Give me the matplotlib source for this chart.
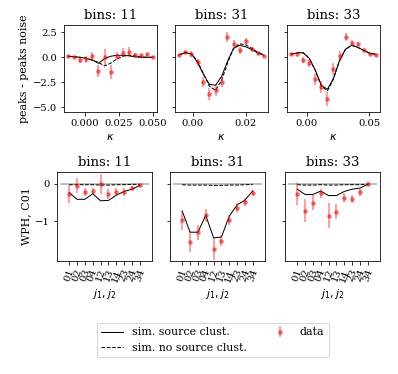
import numpy as np
import matplotlib
matplotlib.use("Agg")
import matplotlib.pyplot as plt

plt.rcParams['font.family'] = 'serif'
plt.rcParams['font.size'] = 11
plt.rcParams['xtick.labelsize'] = 10
plt.rcParams['ytick.labelsize'] = 10

bins = ['11', '31', '33']

# top row: peak counts difference vs kappa
kappa = [
    [-0.0123, -0.0079, -0.0035, 0.0010, 0.0054, 0.0098, 0.0143, 0.0187,
     0.0231, 0.0275, 0.0320, 0.0364, 0.0408, 0.0453, 0.0497],
    [-0.0051, -0.0028, -0.0005, 0.0018, 0.0040, 0.0063, 0.0086, 0.0109,
     0.0131, 0.0154, 0.0177, 0.0200, 0.0222, 0.0245, 0.0268],
    [-0.0125, -0.0077, -0.0028, 0.0020, 0.0069, 0.0117, 0.0166, 0.0214,
     0.0263, 0.0311, 0.0360, 0.0408, 0.0457, 0.0505, 0.0554],
]
peaks_data = [
    [0.16, 0.0, -0.27, -0.2, 0.13, -1.37, 0.0, -1.5, 0.17, 0.47, 0.57, 0.27, 0.2, 0.33, 0.0],
    [0.2, 0.5, 0.33, -0.5, -2.5, -3.7, -3.25, -2.5, 2.07, 1.35, 0.73, 1.67, 0.87, 0.4, 0.18],
    [0.3, 0.37, -0.3, -0.6, -2.2, -2.93, -4.17, -1.17, 0.13, 2.0, 1.4, 1.3, 0.73, 0.37, 0.27],
]
peaks_err = [
    [0.1, 0.1, 0.3, 0.35, 0.4, 0.6, 0.8, 0.7, 0.4, 0.45, 0.45, 0.2, 0.15, 0.15, 0.1],
    [0.1, 0.15, 0.3, 0.35, 0.5, 0.6, 0.6, 0.5, 0.5, 0.4, 0.35, 0.3, 0.2, 0.15, 0.1],
    [0.1, 0.15, 0.3, 0.4, 0.6, 0.6, 0.7, 0.6, 0.5, 0.4, 0.3, 0.2, 0.15, 0.1, 0.1],
]
peaks_clust = [
    [0.1, 0.05, 0.0, -0.1, -0.25, -0.6, -0.15, 0.1, 0.2, 0.2, 0.15, 0.05, 0.0, 0.0, 0.0],
    [0.25, 0.45, 0.35, -0.5, -1.7, -2.7, -2.8, -1.9, -0.4, 0.9, 1.2, 1.05, 0.8, 0.45, 0.2],
    [0.3, 0.45, 0.45, -0.1, -1.3, -2.8, -3.2, -2.1, -0.3, 0.8, 1.2, 1.0, 0.7, 0.4, 0.3],
]
peaks_noclust = [
    [0.1, 0.05, 0.0, -0.1, -0.3, -0.5, -0.87, -0.6, -0.2, 0.1, 0.2, 0.15, 0.05, 0.0, 0.0],
    [0.25, 0.5, 0.35, -0.4, -1.6, -2.9, -3.3, -2.3, -0.6, 0.9, 1.35, 1.25, 0.9, 0.5, 0.25],
    [0.3, 0.45, 0.45, -0.1, -1.35, -2.9, -3.35, -2.2, -0.35, 0.8, 1.2, 1.0, 0.7, 0.4, 0.3],
]
kappa_ticks = [[0.0, 0.025, 0.05], [0.0, 0.02], [0.0, 0.05]]

# bottom row: WPH C01 coefficients
jpairs = ['01', '02', '03', '04', '12', '13', '14', '23', '24', '34']
wph_data = [
    [-0.27, -0.05, -0.22, -0.2, 0.0, -0.27, -0.22, -0.22, -0.11, -0.04],
    [-0.97, -1.55, -1.29, -0.84, -1.74, -1.52, -0.97, -0.63, -0.48, -0.24],
    [-0.27, -0.72, -0.5, -0.25, -0.85, -0.74, -0.37, -0.4, -0.22, 0.0],
]
wph_err = [
    [0.24, 0.2, 0.11, 0.08, 0.27, 0.13, 0.1, 0.1, 0.05, 0.03],
    [0.25, 0.28, 0.2, 0.18, 0.3, 0.15, 0.14, 0.12, 0.1, 0.05],
    [0.29, 0.31, 0.2, 0.12, 0.33, 0.2, 0.12, 0.1, 0.1, 0.05],
]
wph_clust = [
    [-0.23, -0.41, -0.41, -0.26, -0.45, -0.44, -0.3, -0.2, -0.14, -0.04],
    [-0.72, -1.29, -1.29, -0.84, -1.44, -1.42, -0.86, -0.56, -0.43, -0.18],
    [-0.14, -0.28, -0.28, -0.19, -0.31, -0.31, -0.2, -0.14, -0.11, -0.01],
]
wph_noclust = [
    [-0.02, -0.02, -0.02, -0.02, -0.03, -0.03, -0.02, -0.02, -0.01, -0.01],
    [-0.02, -0.03, -0.03, -0.03, -0.04, -0.04, -0.03, -0.03, -0.02, -0.01],
    [-0.02, -0.03, -0.03, -0.02, -0.03, -0.03, -0.02, -0.02, -0.02, -0.01],
]

W, H = 398, 374
fig = plt.figure(figsize=(W / 72, H / 72), dpi=72)

top_x = [64, 175, 287]
bot_x = [57, 170, 285]
top_axes, bot_axes = [], []
for i in range(3):
    ax = fig.add_axes([top_x[i] / W, (H - 112) / H, 93 / W, 87 / H],
                      sharey=top_axes[0] if i else None)
    top_axes.append(ax)
for i in range(3):
    ax = fig.add_axes([bot_x[i] / W, (H - 261) / H, 95 / W, 89 / H],
                      sharey=bot_axes[0] if i else None)
    bot_axes.append(ax)

red = dict(fmt='o', color='red', alpha=0.5, ms=3.5, elinewidth=1.5, capsize=0)

for i, ax in enumerate(top_axes):
    ax.plot(kappa[i], peaks_clust[i], 'k-', lw=1, label='sim. source clust.')
    ax.plot(kappa[i], peaks_noclust[i], 'k--', lw=1, label='sim. no source clust.')
    ax.errorbar(kappa[i], peaks_data[i], yerr=peaks_err[i], label='data', **red)
    ax.set_title('bins: ' + bins[i])
    ax.set_xticks(kappa_ticks[i])
    ax.set_xlabel(r'$\kappa$')
    if i:
        ax.tick_params(labelleft=False)
top_axes[0].set_ylim(-5.47, 3.23)
top_axes[0].set_yticks([-5.0, -2.5, 0.0, 2.5])
top_axes[0].set_ylabel('peaks - peaks noise')

x = np.arange(len(jpairs))
for i, ax in enumerate(bot_axes):
    ax.plot([-1, len(jpairs)], [0, 0], color='gray', alpha=0.5, lw=2)
    ax.plot(x, wph_clust[i], 'k-', lw=1)
    ax.plot(x, wph_noclust[i], 'k--', lw=1)
    ax.errorbar(x, wph_data[i], yerr=wph_err[i], **red)
    ax.set_title('bins: ' + bins[i])
    ax.set_xticks(x)
    ax.set_xticklabels(jpairs, rotation=70)
    ax.set_xlabel(r'$j_1, j_2$')
    if i:
        ax.tick_params(labelleft=False)
bot_axes[0].set_ylim(-2.06, 0.32)
bot_axes[0].set_yticks([-1, 0])
bot_axes[0].set_ylabel('WPH, C01')

handles, labels = top_axes[0].get_legend_handles_labels()
fig.legend(handles, labels, loc='lower center', ncol=2,
           bbox_to_anchor=(0.535, 0.03))

fig.savefig('out.png', dpi=72)
